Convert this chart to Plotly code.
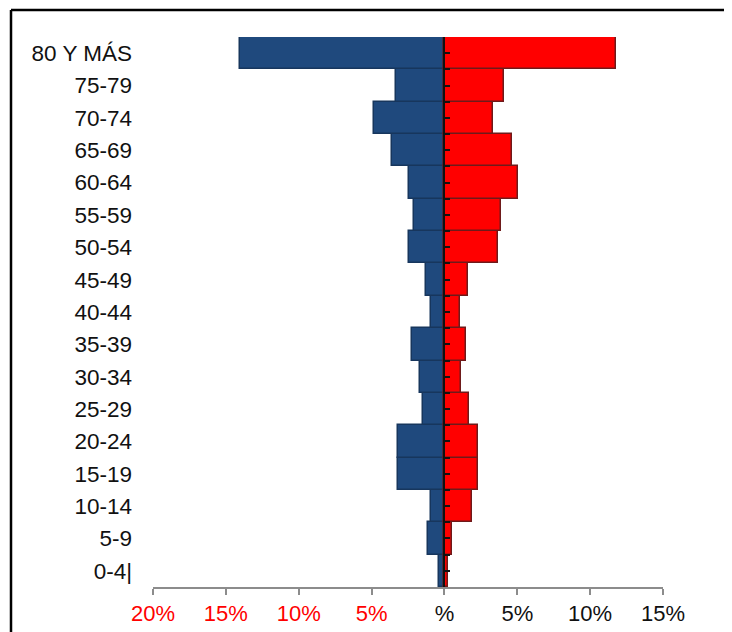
import plotly.graph_objects as go

# Age groups (bottom to top)
age_groups = ["0-4|", "5-9", "10-14", "15-19", "20-24", "25-29", "30-34", "35-39",
              "40-44", "45-49", "50-54", "55-59", "60-64", "65-69", "70-74", "75-79", "80 Y MÁS"]
# Percent of population
hombres = [0.38, 1.12, 0.95, 3.18, 3.18, 1.47, 1.70, 2.22, 0.95, 1.29, 2.43, 2.06, 2.43, 3.57, 4.85, 3.34, 14.05]
mujeres = [0.24, 0.54, 1.90, 2.27, 2.27, 1.67, 1.12, 1.51, 1.10, 1.60, 3.71, 3.89, 5.03, 4.65, 3.34, 4.07, 11.78]

x_tickvals = [-20, -15, -10, -5, 0, 5, 10, 15]
x_ticktext = ["<span style='color:#FF0000'>20%</span>", "<span style='color:#FF0000'>15%</span>",
              "<span style='color:#FF0000'>10%</span>", "<span style='color:#FF0000'>5%</span>",
              "%", "5%", "10%", "15%"]

ypos = list(range(len(age_groups)))

fig = go.Figure()
fig.add_trace(go.Bar(
    y=ypos, x=[-v for v in hombres], orientation="h", name="Hombres",
    marker=dict(color="#1F497D", line=dict(color="#17365D", width=1.5)),
    showlegend=False,
))
fig.add_trace(go.Bar(
    y=ypos, x=mujeres, orientation="h", name="Mujeres", yaxis="y2",
    marker=dict(color="#FF0000", line=dict(color="#6E1A1A", width=1.5)),
    showlegend=False,
))

# page body has an 8px offset
OFF = 8
W, H = 732, 632
L, R, T, B = 153 - OFF, 732 - (663 - OFF), 37 - OFF, 632 - (587 - OFF)
pw, ph = W - L - R, H - T - B

fx0 = (11 - OFF - L) / pw          # left frame edge (paper)
fy1 = 1 + (T - (10 - OFF)) / ph    # top frame edge (paper)
fx_end = (W - L) / pw              # right edge of figure (paper)
fy_end = -B / ph                   # bottom edge of figure (paper)

fig.update_layout(
    width=W, height=H,
    margin=dict(l=L, r=R, t=T, b=B, pad=0),
    paper_bgcolor="white", plot_bgcolor="white",
    barmode="relative", bargap=0,
    font=dict(family="Liberation Sans, Arial, sans-serif", size=22, color="#111111"),
    xaxis=dict(
        range=[-20, 15], tickvals=x_tickvals, ticktext=x_ticktext,
        showgrid=False, zeroline=False,
        showline=True, linecolor="#8C8C8C", linewidth=1.5,
        ticks="outside", ticklen=6, tickcolor="#8C8C8C", tickwidth=1.5,
        tickfont=dict(size=22, color="#111111"),
    ),
    yaxis=dict(
        range=[-0.5, 16.5], tickvals=ypos, ticktext=age_groups,
        showgrid=False, zeroline=False, showline=False, ticks="",
        ticklabelstandoff=20,
        tickfont=dict(size=22.5, color="#111111"),
    ),
    yaxis2=dict(
        overlaying="y", anchor="free", position=20 / 35, side="right",
        range=[-0.5, 16.5], tickvals=[i * 0.5 for i in range(33)],
        showticklabels=False, showgrid=False, zeroline=False,
        showline=True, linecolor="#111111", linewidth=1.5,
        ticks="outside", ticklen=5, tickcolor="#111111", tickwidth=1.5,
        layer="above traces",
    ),
    shapes=[
        dict(type="line", xref="paper", yref="paper", x0=fx0, x1=fx_end, y0=fy1, y1=fy1,
             line=dict(color="black", width=2.5)),
        dict(type="line", xref="paper", yref="paper", x0=fx0, x1=fx0, y0=fy_end, y1=fy1,
             line=dict(color="black", width=2.5)),
    ],
)

fig.write_html("out.html")
